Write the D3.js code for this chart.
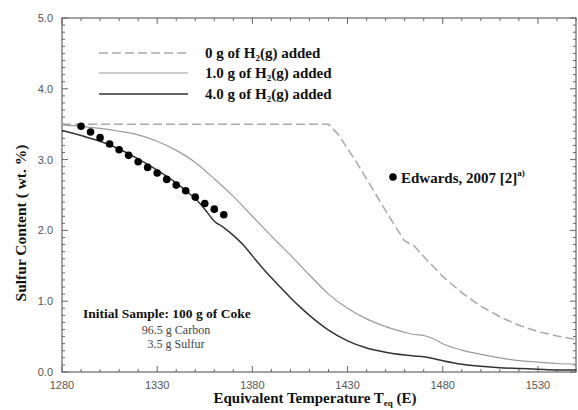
<!DOCTYPE html>
<html><head><meta charset="utf-8">
<script src="https://cdn.jsdelivr.net/npm/d3@7"></script>
<style>body{margin:0;background:#fff}svg{display:block}</style>
</head><body>
<svg id="c" width="578" height="410"></svg>
<script>
const xTicks = [1280, 1330, 1380, 1430, 1480, 1530];
const yTicks = [0, 1, 2, 3, 4, 5];
const seriesNames = ["0 g of H\u2082(g) added", "1.0 g of H\u2082(g) added", "4.0 g of H\u2082(g) added"];
const temp0 = [1280,1420,1425,1435,1445,1455,1460,1465,1470,1480,1490,1500,1510,1520,1530,1540,1550];
const sulfur0 = [3.5,3.5,3.36,2.95,2.5,2.06,1.85,1.78,1.63,1.35,1.12,0.93,0.78,0.66,0.57,0.51,0.46];
const temp1 = [1280,1290,1300,1310,1320,1330,1340,1350,1360,1370,1380,1390,1400,1410,1420,1430,1440,1450,1460,1465,1470,1475,1480,1490,1500,1510,1520,1530,1540,1550];
const sulfur1 = [3.49,3.47,3.44,3.4,3.35,3.26,3.13,2.96,2.73,2.48,2.2,1.92,1.65,1.37,1.1,0.9,0.75,0.64,0.56,0.53,0.515,0.47,0.4,0.31,0.25,0.2,0.16,0.14,0.12,0.11];
const temp4 = [1280,1290,1300,1310,1320,1330,1340,1345,1350,1355,1360,1365,1370,1375,1380,1385,1390,1395,1400,1405,1410,1415,1420,1430,1440,1450,1460,1465,1470,1475,1480,1490,1500,1510,1520,1530,1540,1550];
const sulfur4 = [3.41,3.34,3.26,3.15,3.01,2.85,2.67,2.56,2.45,2.3,2.13,2.04,1.93,1.8,1.64,1.48,1.33,1.19,1.05,0.92,0.8,0.69,0.59,0.44,0.34,0.28,0.24,0.225,0.215,0.19,0.16,0.11,0.08,0.06,0.05,0.04,0.03,0.03];
const edwardsT = [1290,1295,1300,1305,1310,1315,1320,1325,1330,1335,1340,1345,1350,1355,1360,1365];
const edwardsS = [3.47,3.39,3.31,3.22,3.14,3.06,2.97,2.89,2.81,2.72,2.64,2.56,2.47,2.38,2.3,2.22];

const svg = d3.select("#c");
const L = 62, R = 576, T = 18, B = 372;
const x = d3.scaleLinear().domain([1280, 1550]).range([L, R]);
const y = d3.scaleLinear().domain([0, 5]).range([B, T]);
const axisCol = "#666";
const serif = "'Liberation Serif', 'Times New Roman', serif";
const sans = "'Liberation Sans', Arial, sans-serif";

// minor & major ticks
const xMinor = d3.range(1280, 1551, 10);
const yMinor = d3.range(0, 50.1, 1).map(d => d / 10);
const g = svg.append("g").attr("stroke", axisCol).attr("stroke-width", 1);
xMinor.forEach(t => {
  const major = xTicks.includes(t);
  const len = major ? 6 : 3;
  g.append("line").attr("x1", x(t)).attr("x2", x(t)).attr("y1", B).attr("y2", B - len);
  g.append("line").attr("x1", x(t)).attr("x2", x(t)).attr("y1", T).attr("y2", T + len);
});
yMinor.forEach(v => {
  const major = Math.abs(v - Math.round(v)) < 1e-6;
  const len = major ? 6 : 3;
  g.append("line").attr("y1", y(v)).attr("y2", y(v)).attr("x1", L).attr("x2", L + len);
  g.append("line").attr("y1", y(v)).attr("y2", y(v)).attr("x1", R).attr("x2", R - len);
});
svg.append("rect").attr("x", L).attr("y", T).attr("width", R - L).attr("height", B - T)
  .attr("fill", "none").attr("stroke", axisCol).attr("stroke-width", 1.2);

// tick labels
svg.append("g").selectAll("text").data(xTicks).join("text")
  .attr("x", d => x(d)).attr("y", 389).attr("text-anchor", "middle")
  .attr("font-family", sans).attr("font-size", 11).attr("fill", "#555").text(d => d);
svg.append("g").selectAll("text").data(yTicks).join("text")
  .attr("x", 53).attr("y", d => y(d) + 4).attr("text-anchor", "end")
  .attr("font-family", sans).attr("font-size", 11).attr("fill", "#555").text(d => d.toFixed(1));

// axis titles
svg.append("text").attr("transform", "translate(26,223) rotate(-90)").attr("text-anchor", "middle")
  .attr("font-family", serif).attr("font-weight", "bold").attr("font-size", 15.5).attr("fill", "#111")
  .text("Sulfur Content ( wt. %)");
const xt = svg.append("text").attr("x", 315).attr("y", 403).attr("text-anchor", "middle")
  .attr("font-family", serif).attr("font-weight", "bold").attr("font-size", 15).attr("fill", "#111");
xt.append("tspan").text("Equivalent Temperature T");
xt.append("tspan").attr("font-size", 9).attr("dy", 3).text("eq");
xt.append("tspan").attr("dy", -3).text(" (E)");

// curves
const line = d3.line().curve(d3.curveMonotoneX);
const styles = [
  {stroke: "#a8a8a8", width: 1.5, dash: "9,4"},
  {stroke: "#9a9a9a", width: 1.2, dash: null},
  {stroke: "#333", width: 1.5, dash: null}
];
const data = [
  temp0.map((t, i) => [x(t), y(sulfur0[i])]),
  temp1.map((t, i) => [x(t), y(sulfur1[i])]),
  temp4.map((t, i) => [x(t), y(sulfur4[i])])
];
svg.append("clipPath").attr("id", "pc").append("rect")
  .attr("x", L).attr("y", T).attr("width", R - L).attr("height", B - T);
data.forEach((d, i) => {
  svg.append("path").attr("d", (i === 0 ? d3.line() : line)(d)).attr("fill", "none")
    .attr("stroke", styles[i].stroke).attr("stroke-width", styles[i].width)
    .attr("stroke-dasharray", styles[i].dash).attr("clip-path", "url(#pc)");
});

// Edwards dots
svg.append("g").selectAll("circle").data(edwardsT).join("circle")
  .attr("cx", d => x(d)).attr("cy", (d, i) => y(edwardsS[i])).attr("r", 3.8).attr("fill", "#000");

// legend
const legY = [53, 73, 94];
seriesNames.forEach((n, i) => {
  svg.append("line").attr("x1", 99).attr("x2", 188).attr("y1", legY[i]).attr("y2", legY[i])
    .attr("stroke", styles[i].stroke).attr("stroke-width", styles[i].width)
    .attr("stroke-dasharray", styles[i].dash);
  const t = svg.append("text").attr("x", 205).attr("y", legY[i] + 5)
    .attr("font-family", serif).attr("font-weight", "bold").attr("font-size", 15).attr("fill", "#111");
  const parts = n.split("\u2082");
  t.append("tspan").text(parts[0]);
  t.append("tspan").attr("font-size", 9).attr("dy", 3).text("2");
  t.append("tspan").attr("dy", -3).text(parts[1]);
});

// Edwards label
svg.append("circle").attr("cx", 393).attr("cy", 177).attr("r", 3.8).attr("fill", "#000");
const et = svg.append("text").attr("x", 401).attr("y", 183)
  .attr("font-family", serif).attr("font-weight", "bold").attr("font-size", 15).attr("fill", "#111");
et.append("tspan").text("Edwards, 2007 [2]");
et.append("tspan").attr("font-size", 9).attr("dy", -7).text("a)");

// annotation
svg.append("text").attr("x", 83).attr("y", 318).attr("font-family", serif).attr("font-weight", "bold")
  .attr("font-size", 13.5).attr("fill", "#111").text("Initial Sample: 100 g of Coke");
svg.append("text").attr("x", 176).attr("y", 334).attr("text-anchor", "middle").attr("font-family", serif)
  .attr("font-size", 12).attr("fill", "#444").text("96.5 g Carbon");
svg.append("text").attr("x", 176).attr("y", 348).attr("text-anchor", "middle").attr("font-family", serif)
  .attr("font-size", 12).attr("fill", "#444").text("3.5 g Sulfur");
</script>
</body></html>
